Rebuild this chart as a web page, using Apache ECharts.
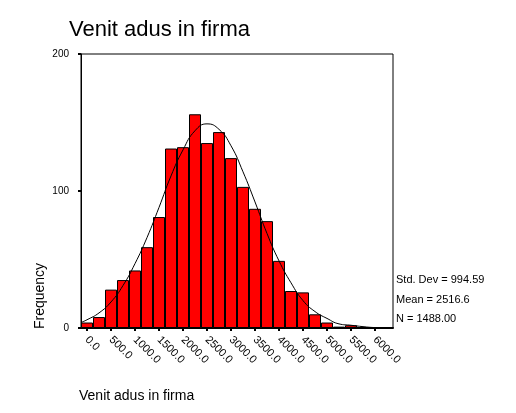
<!DOCTYPE html>
<html>
<head>
<meta charset="utf-8">
<script src="https://cdn.jsdelivr.net/npm/echarts@6/dist/echarts.min.js"></script>
<style>html,body{margin:0;padding:0;background:#fff}#c{width:516px;height:413px}</style>
</head>
<body>
<div id="c"></div>
<script>
// Bin midpoints (bin width 250)
const binMids = [0,250,500,750,1000,1250,1500,1750,2000,2250,2500,2750,3000,3250,3500,3750,4000,4250,4500,4750,5000,5250,5500];
const frequencies = [4,8,28,35,42,59,81,131,132,156,135,143,124,103,87,78,49,27,26,10,4,1,2];
// Normal curve points
const curveX = [-125,0,250,500,750,1000,1250,1500,1750,2000,2250,2500,2750,3000,3250,3500,3750,4000,4250,4500,4750,5000,5250,5500,5750,6000,6375];
const curveY = [4,6,11,19,31,47,66,88,111,130,144,149,145,133,114,92,69,49,33,20,12,7,3,2,1,0.3,0];
const xTicks = [0,500,1000,1500,2000,2500,3000,3500,4000,4500,5000,5500,6000];
const yTicks = [0,100,200];
const statLines = ['Std. Dev = 994.59','Mean = 2516.6','N = 1488.00'];
const titleText = 'Venit adus in firma';
const xName = 'Venit adus in firma';
const yName = 'Frequency';

const font = '"Liberation Sans", Arial, sans-serif';
const chart = echarts.init(document.getElementById('c'));
chart.setOption({
  animation: false,
  backgroundColor: '#fff',
  title: {
    text: titleText, left: 69, top: 19, padding: 0,
    textStyle: { fontFamily: font, fontSize: 22, fontWeight: 'normal', color: '#000' }
  },
  grid: { left: 81, right: 123, top: 54, bottom: 85, show: true, borderColor: '#000', borderWidth: 1 },
  xAxis: {
    type: 'value', min: -125, max: 6375,
    splitLine: { show: false },
    axisLine: { show: true, onZero: false, lineStyle: { color: '#000', width: 2 } },
    axisTick: { show: true, customValues: xTicks, length: 3, lineStyle: { color: '#000', width: 2 } },
    axisLabel: {
      customValues: xTicks, rotate: -45, margin: 10,
      fontFamily: font, fontSize: 11, color: '#000',
      formatter: v => v.toFixed(1)
    }
  },
  yAxis: {
    type: 'value', min: 0, max: 200, interval: 100,
    splitLine: { show: false },
    axisLine: { show: true, onZero: false, lineStyle: { color: '#000', width: 1 } },
    axisTick: { show: true, length: 3, lineStyle: { color: '#000', width: 2 } },
    axisLabel: { margin: 12, fontFamily: font, fontSize: 10, color: '#000',
      customValues: yTicks }
  },
  series: [
    {
      type: 'bar',
      data: binMids.map((x, i) => [x, frequencies[i]]),
      barWidth: 12,
      itemStyle: { color: '#ff0000', borderColor: '#000', borderWidth: 1 },
      z: 2
    },
    {
      type: 'line',
      data: curveX.map((x, i) => [x, curveY[i]]),
      smooth: true, showSymbol: false, symbol: 'none',
      lineStyle: { color: '#000', width: 1 },
      z: 3
    }
  ],
  graphic: [
    { type: 'text', left: 79, top: 389, style: { text: xName, font: '14px ' + font, fill: '#000' } },
    { type: 'text', x: 40, y: 296, rotation: Math.PI / 2,
      style: { text: yName, font: '14px ' + font, fill: '#000', align: 'center', verticalAlign: 'middle' } },
    ...statLines.map((t, i) => ({
      type: 'text', x: 396, y: [280, 300, 319][i],
      style: { text: t, font: '11px ' + font, fill: '#000', verticalAlign: 'middle' }
    }))
  ]
});
</script>
</body>
</html>
